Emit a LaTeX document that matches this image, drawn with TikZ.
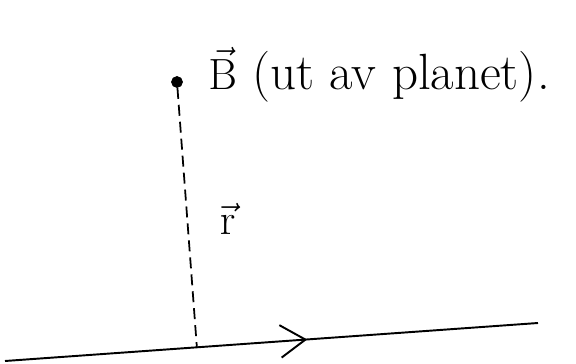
\documentclass[tikz,border=0pt]{standalone}
\usepackage{amsmath}
\usepackage{tikz}
\usetikzlibrary{arrows.meta, positioning, calc, decorations.markings}
\tikzset{
  ladning/.style={
    circle, fill, draw, inner sep=0pt, minimum size=0.22cm,
  },
  tekst/.style={
    anchor=base west, inner sep=0pt, font=\fontsize{29}{34}\selectfont,
  },
  avstand/.style={
    line width=1pt, dash pattern=on 0.22cm off 0.12cm,
  },
  leder/.style={
    line width=1.1pt,
    decoration={markings, mark=at position 0.567 with {\arrow{Straight Barb[length=5mm, width=6.5mm, line width=1.1pt]}}},
    postaction={decorate},
  },
}

\begin{document}
\begin{tikzpicture}
  \useasboundingbox (0,0) rectangle (11.52,7.28);
  \node[ladning] (punkt) at (3.54,5.64) {};
  \node[tekst] (felt) at (4.16,5.48) {$\vec{\mathrm{B}}$ (ut av planet).};
  \coordinate (venstre) at (0.1,0.06);
  \coordinate (hoyre) at (10.76,0.82);
  \coordinate (fot) at ($(venstre)!0.36!(hoyre)$);
  \node[font=\fontsize{32}{36}\selectfont] (r) at (4.55,2.9) {$\vec{\mathrm{r}}$};

  \draw[leder] (venstre) -- (hoyre);
  \draw[avstand] (punkt) -- (fot);
\end{tikzpicture}
\end{document}
